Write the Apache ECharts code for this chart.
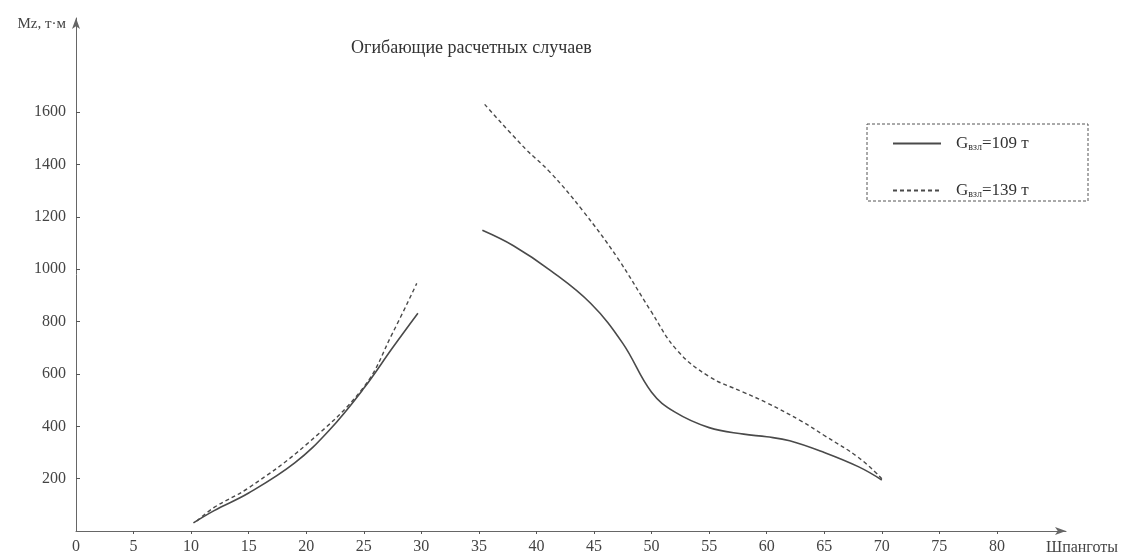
<!DOCTYPE html>
<html>
<head>
<meta charset="utf-8">
<script src="https://cdn.jsdelivr.net/npm/echarts@6/dist/echarts.min.js"></script>
<style>
  html, body { margin: 0; padding: 0; background: #fff; }
  #chart { width: 1134px; height: 558px; }
</style>
</head>
<body>
<div id="chart"></div>
<script>
// шпангоуты и моменты
var xTicks = [0, 5, 10, 15, 20, 25, 30, 35, 40, 45, 50, 55, 60, 65, 70, 75, 80];
var yTicks = [200, 400, 600, 800, 1000, 1200, 1400, 1600];

// G взл = 109 т (сплошная), null = разрыв между участками
var x109 = [10.2, 12, 15, 19, 22, 25, 27.5, 29.7, 32.5, 35.3, 38, 41.2, 44.7, 47.5, 50, 52, 55, 58, 60, 62, 65, 68, 70];
var y109 = [31, 78, 145, 260, 385, 545, 700, 832, null, 1149, 1090, 996, 870, 717, 530, 455, 395, 370, 360, 345, 300, 245, 195];

// G взл = 139 т (пунктир)
var x139 = [10.5, 12, 15, 20, 25, 27.5, 29.6, 32.5, 35.5, 39, 41.2, 44, 47, 49.9, 52.2, 55, 58, 60, 63, 65, 68, 70];
var y139 = [38, 90, 165, 330, 550, 756, 946, null, 1630, 1462, 1370, 1225, 1046, 843, 691, 590, 530, 490, 420, 365, 280, 200];

var serif = '"Liberation Serif", "DejaVu Serif", serif';
var ink = '#4a4a4a';

function pairs(xs, ys) {
    var out = [];
    for (var i = 0; i < xs.length; i++) {
        out.push([xs[i], ys[i] === null ? '-' : ys[i]]);
    }
    return out;
}

var chart = echarts.init(document.getElementById('chart'));

var option = {
    backgroundColor: '#fff',
    animation: false,
    title: {
        text: 'Огибающие расчетных случаев',
        left: 346,
        top: 34,
        textStyle: { fontFamily: serif, fontSize: 18, fontWeight: 'normal', color: '#333' }
    },
    legend: {
        orient: 'vertical',
        left: 887,
        top: 130,
        itemWidth: 48,
        itemHeight: 14,
        itemGap: 30,
        data: ['109', '139'],
        itemStyle: { color: 'rgba(0,0,0,0)', borderWidth: 0, opacity: 0 },
        formatter: function (name) {
            return '{g|G}{s|взл}{g|=' + name + ' т}';
        },
        textStyle: {
            padding: [0, 0, 0, 10],
            rich: {
                g: { fontFamily: serif, fontSize: 17, color: '#333' },
                s: { fontFamily: serif, fontSize: 10, color: '#333', verticalAlign: 'bottom', padding: [7, 0, 0, 0] }
            }
        }
    },
    graphic: [{
        type: 'rect',
        shape: { x: 867, y: 124, width: 221, height: 77 },
        style: { fill: 'none', stroke: '#555', lineWidth: 1, lineDash: [3, 2] }
    }],
    grid: { left: 76, right: 68, top: 18, bottom: 27 },
    xAxis: {
        type: 'value',
        min: 0,
        max: 86,
        name: 'Шпанготы',
        nameLocation: 'end',
        nameGap: -20,
        nameTextStyle: { fontFamily: serif, fontSize: 16, color: '#444', align: 'left', verticalAlign: 'top', padding: [9, 0, 0, 0] },
        axisLine: { lineStyle: { color: '#666', width: 1 }, symbol: ['none', 'arrow'], symbolSize: [6, 11] },
        axisTick: { customValues: xTicks.slice(1), length: 3, inside: false, lineStyle: { color: '#555' } },
        axisLabel: { customValues: xTicks, fontFamily: serif, fontSize: 16, color: '#444', margin: 8 },
        splitLine: { show: false }
    },
    yAxis: {
        type: 'value',
        min: 0,
        max: 1960,
        name: 'Mz, т·м',
        nameLocation: 'end',
        nameGap: -6,
        nameTextStyle: { fontFamily: serif, fontSize: 15, color: '#444', align: 'right', verticalAlign: 'middle', padding: [0, 10, 0, 0] },
        axisLine: { show: true, lineStyle: { color: '#666', width: 1 }, symbol: ['none', 'arrow'], symbolSize: [6, 11] },
        axisTick: { show: true, customValues: yTicks, length: 4, inside: true, lineStyle: { color: '#555' } },
        axisLabel: {
            customValues: yTicks,
            fontFamily: serif, fontSize: 16, color: '#444', margin: 10,
            formatter: function (v) { return String(v); }
        },
        splitLine: { show: false }
    },
    series: [
        {
            name: '109',
            type: 'line',
            smooth: 0.4,
            showSymbol: false,
            symbol: 'none',
            connectNulls: false,
            lineStyle: { color: ink, width: 1.6, type: 'solid' },
            itemStyle: { color: ink },
            data: pairs(x109, y109)
        },
        {
            name: '139',
            type: 'line',
            smooth: 0.4,
            showSymbol: false,
            symbol: 'none',
            connectNulls: false,
            lineStyle: { color: ink, width: 1.4, type: [4, 3] },
            itemStyle: { color: ink },
            data: pairs(x139, y139)
        }
    ]
};

chart.setOption(option);
</script>
</body>
</html>
